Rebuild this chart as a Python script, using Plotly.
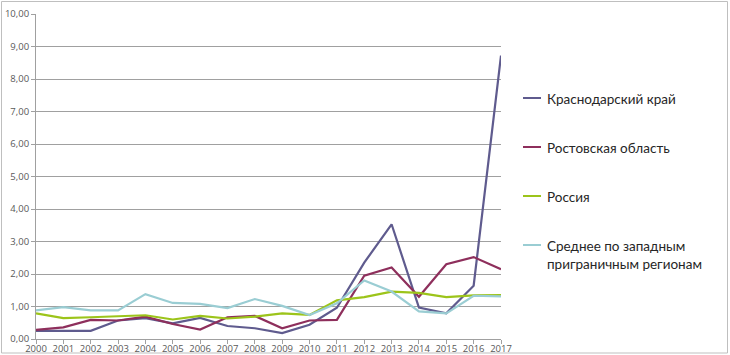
import plotly.graph_objects as go

years = list(range(2000, 2018))

krasnodar = [0.25, 0.25, 0.25, 0.57, 0.64, 0.48, 0.65, 0.40, 0.33, 0.18,
             0.44, 0.96, 2.35, 3.53, 0.97, 0.79, 1.64, 8.72]
rostov = [0.28, 0.36, 0.59, 0.57, 0.69, 0.46, 0.29, 0.67, 0.71, 0.33,
          0.57, 0.59, 1.95, 2.20, 1.30, 2.30, 2.52, 2.15]
russia = [0.79, 0.64, 0.67, 0.69, 0.73, 0.60, 0.71, 0.63, 0.69, 0.79,
          0.74, 1.19, 1.29, 1.46, 1.42, 1.29, 1.34, 1.35]
west_avg = [0.88, 0.98, 0.88, 0.88, 1.38, 1.11, 1.08, 0.95, 1.23, 1.02,
            0.74, 1.10, 1.80, 1.46, 0.85, 0.79, 1.33, 1.31]

names = ["Краснодарский край", "Ростовская область", "Россия",
         "Среднее по западным<br>приграничным регионам"]
colors = ["#5F5B8E", "#8E2F5C", "#9CC41A", "#9ACDD3"]
series = [krasnodar, rostov, russia, west_avg]

W, H = 730, 355
L, R, T, B = 36, 501, 14, 339

def px(x):
    return (x - L) / (R - L)

def py(y):
    return (B - y) / (B - T)

fig = go.Figure()
for name, col, vals in zip(names, colors, series):
    fig.add_trace(go.Scatter(x=years, y=vals, mode="lines", name=name,
                             line=dict(color=col, width=2.2), showlegend=False))

shapes = []
annotations = []
legend_y = [98, 147, 196, 245]
for name, col, ly in zip(names, colors, legend_y):
    shapes.append(dict(type="line", xref="paper", yref="paper",
                       x0=px(523), x1=px(541), y0=py(ly), y1=py(ly),
                       line=dict(color=col, width=2)))
    annotations.append(dict(xref="paper", yref="paper", x=px(545),
                            y=py(ly - 9), xanchor="left", yanchor="top",
                            text=name, showarrow=False, align="left",
                            font=dict(family="Lato, Open Sans, sans-serif",
                                      size=13.5, color="#262626")))

shapes.append(dict(type="rect", xref="paper", yref="paper",
                   x0=px(1.5), x1=px(727.5), y0=py(1.5), y1=py(353),
                   line=dict(color="#BFBFBF", width=1), fillcolor="rgba(0,0,0,0)",
                   layer="below"))

tick_font = dict(family="Open Sans, DejaVu Sans, sans-serif", size=9.5, color="#595959")

fig.update_layout(
    width=W, height=H,
    margin=dict(l=L, r=W - R, t=T, b=H - B, pad=0),
    paper_bgcolor="white", plot_bgcolor="white",
    separators=", ",
    showlegend=False,
    shapes=shapes,
    annotations=annotations,
    xaxis=dict(range=[2000, 2017], tickmode="linear", tick0=2000, dtick=1,
               showgrid=False, zeroline=False, showline=True,
               linecolor="#A0A0A0", linewidth=1, ticks="outside", ticklen=4,
               tickcolor="#A0A0A0", tickfont=tick_font, automargin=False,
               ticklabelstandoff=-3),
    yaxis=dict(range=[0, 10], tickmode="linear", tick0=0, dtick=1,
               tickformat=".2f", showgrid=True, gridcolor="#A0A0A0",
               gridwidth=1, zeroline=False, showline=True,
               linecolor="#A0A0A0", linewidth=1, ticks="outside", ticklen=4,
               tickcolor="#A0A0A0", tickfont=tick_font, automargin=False),
)

fig.write_html("out.html", config={"displayModeBar": False},
               post_script="document.body.style.margin='0';document.body.style.overflow='hidden';")
